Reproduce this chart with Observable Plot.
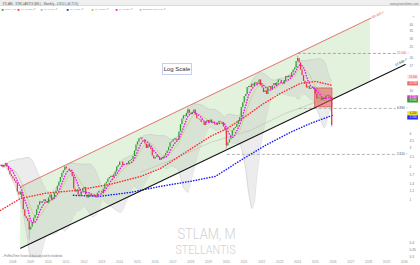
<!DOCTYPE html>
<html><head><meta charset="utf-8">
<script src="https://cdn.jsdelivr.net/npm/d3@7"></script>
<script src="https://cdn.jsdelivr.net/npm/@observablehq/plot@0.6"></script>
<style>
html,body{margin:0;padding:0;background:#fff;}
#wrap{position:relative;width:420px;height:265px;overflow:hidden;}
#topbar{position:absolute;left:0;top:0;width:420px;height:5px;background:#efefef;border-bottom:1px solid #dcdcdc;}
#chart{position:absolute;left:0;top:0;}
#logbox{position:absolute;left:162px;top:63px;width:30px;height:12px;border:1px solid #c6d0ee;background:#fff;white-space:nowrap;
 font:6px "Liberation Sans",Arial,sans-serif;color:#333;display:flex;align-items:center;justify-content:center;box-sizing:border-box;}
</style></head>
<body><div id="wrap"><div id="topbar"></div><div id="chart"></div><div id="logbox">Log Scale</div></div>
<script>
// ---- monthly closes (EUR, log chart) ----
const c2007 = [2.07, 2.00, 2.07, 2.15, 2.00, 1.85]; // Jul-Dec
const c2008 = [1.70, 1.63, 1.55, 1.48, 1.41, 1.18, 1.11, 1.18, 1.04, 0.81, 0.70, 0.67];
const c2009 = [0.63, 0.53, 0.56, 0.62, 0.68, 0.72, 0.81, 0.89, 0.96, 0.93, 0.96, 1.00];
const c2010 = [0.96, 0.93, 1.04, 1.11, 1.00, 1.04, 1.15, 1.20, 1.33, 1.45, 1.60, 1.75];
const c2011 = [1.85, 2.00, 1.92, 1.92, 1.85, 1.78, 1.63, 1.26, 1.18, 1.22, 1.11, 1.07];
const c2012 = [1.18, 1.26, 1.30, 1.11, 1.04, 1.11, 1.07, 1.11, 1.11, 1.07, 1.04, 1.15];
const c2013 = [1.20, 1.20, 1.15, 1.25, 1.40, 1.45, 1.55, 1.60, 1.65, 1.60, 1.70, 1.80];
const c2014 = [2.00, 2.07, 2.22, 2.22, 2.07, 2.10, 2.10, 2.15, 2.25, 2.30, 2.35, 2.50];
const c2015 = [2.81, 3.18, 3.40, 3.63, 3.70, 3.55, 3.55, 3.26, 2.96, 3.18, 3.03, 2.89];
const c2016 = [2.52, 2.37, 2.44, 2.52, 2.44, 2.30, 2.37, 2.44, 2.52, 2.66, 2.81, 3.03];
const c2017 = [3.33, 3.40, 3.55, 3.63, 3.48, 3.55, 4.20, 4.90, 5.50, 5.90, 5.80, 6.20];
const c2018 = [6.66, 6.22, 6.07, 6.36, 6.66, 6.00, 5.55, 5.48, 5.40, 5.11, 5.11, 4.81];
const c2019 = [5.18, 5.33, 5.11, 5.40, 5.03, 5.11, 4.88, 4.81, 5.03, 5.25, 5.18, 5.11];
const c2020 = [4.66, 4.29, 3.11, 3.33, 3.55, 3.85, 4.30, 4.50, 4.60, 4.90, 5.30, 5.70];
const c2021 = [7.03, 7.77, 8.88, 9.25, 10.70, 10.95, 10.70, 11.47, 11.10, 11.84, 11.47, 11.84];
const c2022 = [12.58, 11.10, 10.58, 9.62, 9.99, 9.25, 10.73, 10.95, 10.21, 11.10, 11.69, 11.10];
const c2023 = [11.84, 12.58, 12.43, 11.69, 11.47, 12.43, 13.54, 13.17, 13.69, 13.32, 14.65, 15.54];
const c2024 = [16.20, 18.60, 19.80, 18.00, 15.50, 13.80, 12.20, 11.50, 10.60, 10.90, 10.30, 10.50];
const c2025 = [10.80, 10.20, 9.30, 8.40, 8.60, 8.50, 8.20, 8.60, 8.30, 8.90, 9.10, 8.90];
const c2026 = [8.70, 4.81]; // Jan-Feb

// notable wicks
const wicks = [
  {date: "2009-02", low: 0.43, high: 0.66},
  {date: "2018-01", low: 6.00, high: 6.95},
  {date: "2020-03", low: 2.85, high: 4.45},
  {date: "2024-03", low: 18.4, high: 20.9},
  {date: "2026-02", low: 4.60, high: 8.90}
];

// moving averages: [decimal year, value]
const maRed = [[2007.51,0.80],[2008.63,1.03],[2010.04,1.15],[2011.72,1.22],[2013.69,1.39],[2015.38,1.64],[2016.50,1.94],[2017.90,2.72],[2019.31,3.82],[2020.26,4.52],[2021.28,5.82],[2022.23,7.50],[2023.24,9.46],[2024.37,11.7],[2025.21,12.2],[2026.17,11.2]];
const maBlue = [[2011.61,1.10],[2013.13,1.08],[2014.81,1.17],[2016.50,1.33],[2018.19,1.48],[2019.59,1.64],[2021.00,2.30],[2022.40,3.16],[2023.80,4.16],[2024.93,5.02],[2026.17,5.95]];
const maGray = [[2015.38,1.79],[2017.34,2.40],[2019.31,3.36],[2021.56,4.34],[2023.52,6.20],[2025.49,8.16],[2026.17,8.16]];

// trend channel
const channelLow = [[2008.64,0.360],[2030.26,17.4]];
const channelHigh = [[2008.64,1.32],[2028.97,52.0]];
const channelFill = [{t:2008.64, lo:0.360, hi:1.32},{t:2028.30, lo:12.2, hi:46.1}];
const channelLabels = [{t:2028.75, value:50.1, text:"50.100 ↗"},{t:2030.05, value:18.3, text:"17.600 ↗"}];

// zone & horizontal levels
const zone = [{x1:2025.20, x2:2026.17, y1:7.04, y2:10.5}];
const levels = [22.0, 6.89, 2.61];
const levelFrom = [2024.25, 2024.30, 2020.26];
const levelEnd = 2029.75;

// right-side value tags
const sideValues = [13.4, 11.7, 8.7, 8.16, 6.2, 5.7];

// axes
const yTicks = [0.3,0.35,0.4,0.5,0.6,0.8,1,1.2,1.4,1.7,2,2.5,3,3.5,4,5,6,7,8,10,12,14,17,20,25,30,35,40,50];
const yearTicks = d3.range(2008, 2031);

// legend
const legendLabels = ["Price 4.81","MA 11.200 ↗","MA 8.160 ↗","MA 5.950 ↗","MA 8.800 ↗","MA 8.120 ↗","Bollinger 12.3 6.2 ↗"];

// ---- styles ----
const UP = "#2e9f2e", DOWN = "#e8344a";
const legendColors = ["#2e9f2e","#ff2d2d","#b0b0b0","#1a1aff","#c9bf3a","#e619e6","#bdbdbd"];
const legendX = [1, 17, 40, 66, 91, 115, 139];
const levelColors = ["#f08a8a","#b5b5b5","#b5b5b5"];
const levelText = ["#e05050","#444","#444"];
const sideFill = ["#ffe3e3","#f06a6a","#e22ee2","#2ea02e","#f0e030","#2a2aff"];
const sideInk = ["#e04848","#fff","#fff","#fff","#333","#fff"];

// ---- build table ----
const series = [[2007,7,c2007],[2008,1,c2008],[2009,1,c2009],[2010,1,c2010],[2011,1,c2011],[2012,1,c2012],[2013,1,c2013],[2014,1,c2014],[2015,1,c2015],[2016,1,c2016],[2017,1,c2017],[2018,1,c2018],[2019,1,c2019],[2020,1,c2020],[2021,1,c2021],[2022,1,c2022],[2023,1,c2023],[2024,1,c2024],[2025,1,c2025],[2026,1,c2026]];
const tOf = (y, m) => y + (m - 1) / 12 + 1 / 24;
const rows = [];
let prev = null;
for (const [yr, m0, arr] of series) arr.forEach((c, i) => {
  rows.push({t: tOf(yr, m0 + i), open: prev ?? c, close: c});
  prev = c;
});
const closes = rows.map(d => d.close);
const sma = (k) => rows.map((d, i) => ({t: d.t, v: d3.mean(closes.slice(Math.max(0, i - k + 1), i + 1))}));
rows.forEach((d, i) => {
  const w = closes.slice(Math.max(0, i - 19), i + 1);
  const m = d3.mean(w);
  const sd = Math.sqrt(d3.mean(w, x => (x - m) ** 2));
  d.bbHi = m + 2 * sd;
  d.bbLo = Math.max(m - 2 * sd, 0.3);
});
const ma6 = sma(6), ma10 = sma(10);
const wickRows = wicks.map(w => ({t: tOf(+w.date.slice(0,4), +w.date.slice(5,7)), low: w.low, high: w.high}));
// axis labels hidden behind the value tags
const shownTicks = yTicks.filter(v => sideValues.every(s => Math.abs(Math.log(v / s)) > 0.085));

const dotted = (arr, color) => Plot.line(arr, {x: d => d[0], y: d => d[1], stroke: color, strokeWidth: 1.5, strokeDasharray: "0.3,2.4", strokeLinecap: "round"});
const hdr = (txt, anchor, dx, dy, o = {}) => Plot.text([txt], {frameAnchor: anchor, dx, dy, text: d => d, textAnchor: "start", fontSize: 3, fill: "#666", ...o});

const marks = [
  Plot.areaY(channelFill, {x: "t", y1: "lo", y2: "hi", fill: "#e2f2dc"}),
  Plot.areaY(rows, {x: "t", y1: "bbLo", y2: "bbHi", fill: "#c8c8c8", fillOpacity: 0.35}),
  Plot.line(rows, {x: "t", y: "bbHi", stroke: "#c4c4c4", strokeWidth: 0.5}),
  Plot.line(rows, {x: "t", y: "bbLo", stroke: "#c4c4c4", strokeWidth: 0.5}),
  Plot.ruleY(levels, {y: d => d, x1: (d, i) => levelFrom[i], x2: levelEnd, stroke: (d, i) => levelColors[i], strokeWidth: 1, strokeDasharray: "3,2"}),
  Plot.text(levels, {x: levelEnd + 0.05, y: d => d, text: d => d.toFixed(3) + " ◔", textAnchor: "start", fontSize: 3, fill: (d, i) => levelText[i]}),
  Plot.line(maGray, {x: d => d[0], y: d => d[1], stroke: "#b8b8a8", strokeWidth: 0.6, strokeDasharray: "1,1"}),
  Plot.line(ma10, {x: "t", y: "v", stroke: "#cdc35c", strokeWidth: 0.6}),
  dotted(maBlue, "#1a1aff"),
  dotted(maRed, "#ff2d2d"),
  Plot.line(channelHigh, {x: d => d[0], y: d => d[1], stroke: "#e46a6a", strokeWidth: 0.9}),
  Plot.line(channelLow, {x: d => d[0], y: d => d[1], stroke: "#111", strokeWidth: 1.1}),
  Plot.rect(zone, {x1: "x1", x2: "x2", y1: "y1", y2: "y2", fill: "#ea5a5a", fillOpacity: 0.55, stroke: "#d84040", strokeWidth: 0.6}),
  Plot.ruleX(wickRows, {x: "t", y1: "low", y2: "high", stroke: "#999", strokeWidth: 0.6}),
  Plot.ruleX(rows, {x: "t", y1: "open", y2: "close", stroke: d => d.close >= d.open ? UP : DOWN, strokeWidth: 1.25}),
  dotted(ma6.map(d => [d.t, d.v]), "#e619e6"),
  Plot.text(channelLabels, {x: "t", y: "value", text: "text", rotate: -25.6, fontSize: 3.2, fill: (d, i) => i === 0 ? "#e05050" : "#222", stroke: "#fff", strokeWidth: 1.5, paintOrder: "stroke"}),
  Plot.axisY({anchor: "right", ticks: shownTicks, tickSize: 0, tickPadding: 3, tickFormat: d => String(d), fontSize: 3.3, fill: "#777"}),
  Plot.ruleY(sideValues, {y: d => d, x1: 2030.40, x2: 2031.0, stroke: (d, i) => sideFill[i], strokeWidth: 4.2}),
  Plot.text(sideValues, {x: 2030.70, y: d => d, text: d => d.toFixed(3), fontSize: 2.6, fill: (d, i) => sideInk[i]}),
  Plot.axisX({ticks: yearTicks, tickSize: 0, tickPadding: 2.5, tickFormat: d => String(d), textAnchor: "start", fontSize: 3.2, fill: "#999"}),
  Plot.text(["STLAM, M"], {frameAnchor: "bottom", dx: 3, dy: -20, text: d => d, fontSize: 14.5, fill: "#d2d2d2", fontFamily: "Roboto", fontWeight: 300}),
  Plot.text(["STELLANTIS"], {frameAnchor: "bottom", dx: 2, dy: -4.5, text: d => d, fontSize: 12.5, fill: "#d2d2d2", fontFamily: "Roboto", fontWeight: 300}),
  hdr("STLAM - STELLANTIS (MIL) - Monthly - 4.810 (-44.71%)", "top-left", 2, -9.4, {fill: "#555"}),
  hdr("www.prorealtime.com", "top-right", 12, -9.4, {textAnchor: "end", fill: "#777"}),
  hdr("×", "top-right", 7, 3, {textAnchor: "middle", fontSize: 4, fill: "#aaa"}),
  hdr("▪ ProRealTime: historical data adjusted for dividends", "bottom-left", 2, -1.6, {fontSize: 2.6, fill: "#777"}),
  ...legendLabels.flatMap((lab, i) => [
    hdr("■", "top-left", legendX[i], -4, {fontSize: 3.6, fill: legendColors[i]}),
    hdr(lab, "top-left", legendX[i] + 3.4, -4, {fontSize: 2.5, fill: "#8a8a8a"})
  ])
];

const chart = Plot.plot({
  width: 420, height: 265,
  marginTop: 12, marginBottom: 7, marginLeft: 0, marginRight: 14,
  style: {background: "transparent", fontFamily: "Liberation Sans, Arial, sans-serif", fontSize: "3.3px", overflow: "visible"},
  x: {domain: [2007.51, 2030.33], axis: null},
  y: {type: "log", domain: [0.29, 52.2], axis: null},
  marks
});
chart.querySelectorAll("text").forEach(el => {
  if (el.textContent === "STLAM, M") { el.setAttribute("textLength", 58); el.setAttribute("lengthAdjust", "spacingAndGlyphs"); }
  if (el.textContent === "STELLANTIS") { el.setAttribute("textLength", 60); el.setAttribute("lengthAdjust", "spacingAndGlyphs"); }
});
document.getElementById("chart").appendChild(chart);
</script>
</body></html>
